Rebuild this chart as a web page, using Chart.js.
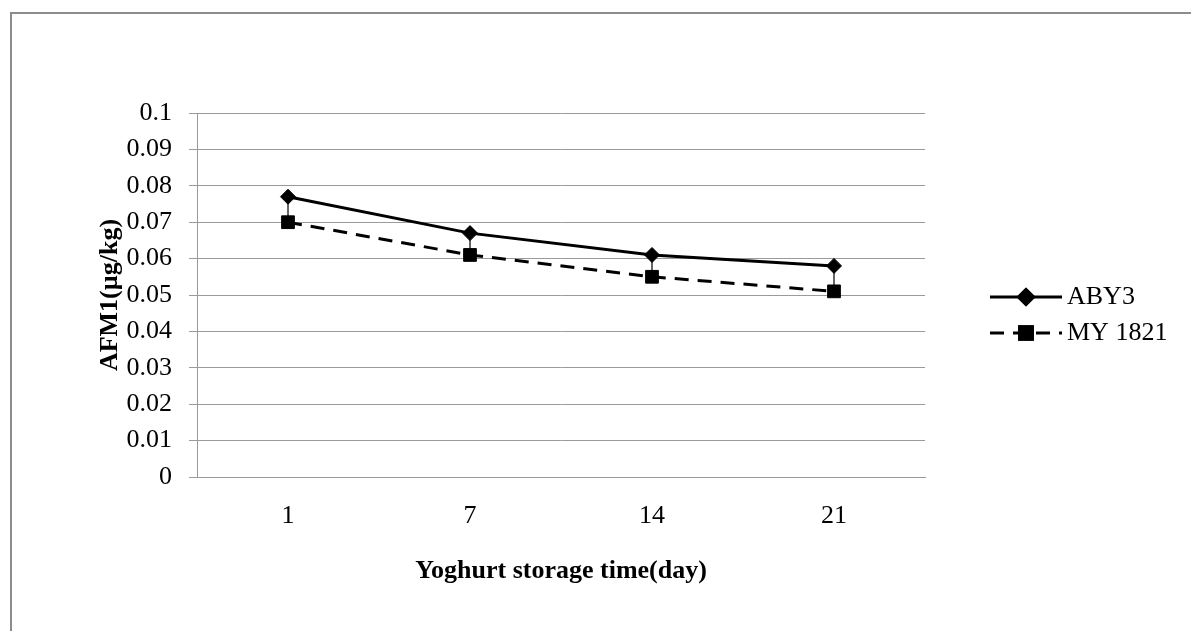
<!DOCTYPE html>
<html>
<head>
<meta charset="utf-8">
<title>AFM1 yoghurt storage</title>
<script src="https://cdn.jsdelivr.net/npm/chart.js@4/dist/chart.umd.min.js"></script>
<style>
  html, body { margin: 0; padding: 0; background: #ffffff; overflow: hidden; }
  #frame {
    position: absolute; left: 10px; top: 12px;
    width: 1400px; height: 800px;
    border: 2px solid #8c8c8c;
  }
  #wrap { position: absolute; left: 0; top: 0; width: 1191px; height: 631px; }
</style>
</head>
<body>
<div id="frame"></div>
<div id="wrap"><canvas id="chart"></canvas></div>
<script>
// data
const days = ["1", "7", "14", "21"];
const aby3 = [0.077, 0.067, 0.061, 0.058];
const my1821 = [0.070, 0.061, 0.055, 0.051];
// downward error bar of ABY3 (line from the diamond down)
const aby3Err = [0.007, 0.006, 0.006, 0.007];
const yTicks = [0, 0.01, 0.02, 0.03, 0.04, 0.05, 0.06, 0.07, 0.08, 0.09, 0.1];

const FONT = "'Liberation Serif', 'Times New Roman', serif";
const GRID = "#9a9a9a";

// vertical error lines, drawn under the markers
const errorBarPlugin = {
  id: "errorBars",
  beforeDatasetsDraw(chart) {
    const { ctx, scales: { x, y } } = chart;
    ctx.save();
    ctx.strokeStyle = "#333333";
    ctx.lineWidth = 1.5;
    aby3.forEach((v, i) => {
      const px = x.getPixelForValue(i);
      ctx.beginPath();
      ctx.moveTo(px, y.getPixelForValue(v));
      ctx.lineTo(px, y.getPixelForValue(v - aby3Err[i]));
      ctx.stroke();
    });
    ctx.restore();
  },
};

// legend like the Excel one: line + marker + name
const sideLegendPlugin = {
  id: "sideLegend",
  afterDraw(chart) {
    const ctx = chart.ctx;
    const x0 = 990, x1 = 1062, textX = 1067;
    const rows = [297, 333];
    ctx.save();
    chart.data.datasets.forEach((ds, i) => {
      const cy = rows[i];
      ctx.strokeStyle = ds.borderColor;
      ctx.lineWidth = ds.borderWidth;
      ctx.setLineDash(ds.borderDash || []);
      ctx.beginPath();
      ctx.moveTo(x0, cy);
      ctx.lineTo(x1, cy);
      ctx.stroke();
      ctx.setLineDash([]);
      Chart.helpers.drawPoint(ctx, {
        pointStyle: ds.pointStyle,
        radius: ds.pointRadius,
        borderWidth: 1,
        rotation: 0,
      }, (x0 + x1) / 2, cy);
      ctx.fillStyle = ds.pointBackgroundColor;
      ctx.fill();
      ctx.stroke();
      ctx.fillStyle = "#000000";
      ctx.font = "26px " + FONT;
      ctx.textBaseline = "middle";
      ctx.textAlign = "left";
      ctx.fillText(ds.label, textX, cy);
    });
    ctx.restore();
  },
};

const chartEl = document.getElementById("chart");
new Chart(chartEl.getContext("2d"), {
  type: "line",
  data: {
    labels: days,
    datasets: [
      {
        label: "ABY3",
        data: aby3,
        borderColor: "#000000",
        borderWidth: 3,
        pointStyle: "rectRot",
        pointRadius: 7.5,
        pointBackgroundColor: "#000000",
        pointBorderColor: "#000000",
        pointBorderWidth: 1,
        tension: 0,
      },
      {
        label: "MY 1821",
        data: my1821,
        borderColor: "#000000",
        borderWidth: 3,
        borderDash: [14, 9],
        pointStyle: "rect",
        pointRadius: 9,
        pointBackgroundColor: "#000000",
        pointBorderColor: "#000000",
        pointBorderWidth: 1,
        tension: 0,
      },
    ],
  },
  options: {
    responsive: true,
    maintainAspectRatio: false,
    animation: false,
    events: [],
    layout: { padding: { top: 113, right: 266, bottom: 0, left: 0 } },
    plugins: {
      legend: { display: false },
      tooltip: { enabled: false },
    },
    scales: {
      x: {
        offset: true,
        grid: { display: false, drawTicks: false },
        border: { display: true, color: GRID, width: 1 },
        ticks: { color: "#000000", font: { family: FONT, size: 26 }, padding: 24 },
        title: {
          display: true,
          text: "Yoghurt storage time(day)",
          color: "#000000",
          font: { family: FONT, size: 26, weight: "bold" },
          padding: { top: 0, bottom: 44 },
        },
        afterFit(scale) { scale.height = 154; },
      },
      y: {
        min: 0,
        max: 0.1,
        afterBuildTicks(scale) { scale.ticks = yTicks.map((v) => ({ value: v })); },
        grid: { color: GRID, lineWidth: 1, tickLength: 8, drawTicks: true },
        border: { display: true, color: GRID, width: 1 },
        ticks: {
          color: "#000000",
          font: { family: FONT, size: 26 },
          padding: 17,
          callback: (v) => String(+v.toFixed(2)),
        },
        title: {
          display: true,
          text: "AFM1(µg/kg)",
          color: "#000000",
          font: { family: FONT, size: 26, weight: "bold" },
          padding: { top: 95, bottom: 0 },
        },
        afterFit(scale) { scale.width = 197; },
      },
    },
  },
  plugins: [errorBarPlugin, sideLegendPlugin],
});
</script>
</body>
</html>
